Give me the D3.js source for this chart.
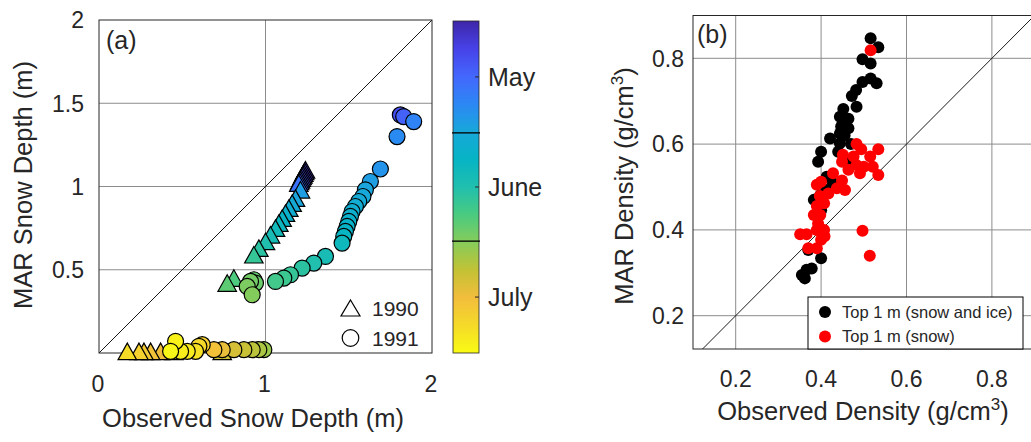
<!DOCTYPE html>
<html><head><meta charset="utf-8">
<script src="https://cdn.jsdelivr.net/npm/d3@7"></script>
<style>
body{margin:0;background:#fff}
text{font-family:"Liberation Sans",Arial,Helvetica,sans-serif;fill:#262626}
</style>
</head><body>
<svg id="chart" width="1031" height="442"></svg>
<script>
// ---------- Panel (a): snow depth, 1990 (triangles) ----------
const obs1990 = [1.24,1.235,1.23,1.225,1.22,1.215,1.21,1.205,1.20,1.21,1.18,1.16,1.14,1.12,1.10,1.08,1.06,1.03,1.00,0.96,0.93,0.81,0.77,0.74,0.45,0.37,0.31,0.27,0.24,0.17];
const mar1990 = [1.10,1.09,1.08,1.07,1.06,1.05,1.04,1.03,1.02,0.98,0.93,0.90,0.87,0.84,0.81,0.78,0.75,0.71,0.67,0.63,0.59,0.45,0.42,0.01,0.01,0.01,0.01,0.01,0.01,0.01];
const day1990 = [2,4,6,8,10,12,14,16,18,28,30,32,34,36,38,40,42,44,46,48,50,54,56,70,74,76,78,80,82,85];
// ---------- Panel (a): snow depth, 1991 (circles) ----------
const obs1991 = [1.81,1.83,1.89,1.79,1.69,1.63,1.60,1.585,1.56,1.54,1.52,1.51,1.50,1.49,1.48,1.47,1.46,1.36,1.29,1.22,1.15,1.11,1.06,0.93,0.94,0.91,0.89,0.92,0.99,0.96,0.92,0.87,0.81,0.74,0.69,0.62,0.60,0.58,0.53,0.49,0.46,0.43];
const mar1991 = [1.43,1.42,1.39,1.30,1.105,1.03,0.98,0.94,0.91,0.88,0.85,0.82,0.79,0.76,0.73,0.70,0.66,0.58,0.54,0.51,0.47,0.45,0.43,0.44,0.42,0.43,0.40,0.35,0.02,0.02,0.02,0.02,0.02,0.02,0.02,0.05,0.04,0.01,0.01,0.01,0.07,0.01];
const day1991 = [10,14,22,24,26,28,30,31,32,33,34,35,36,37,38,39,41,44,46,48,50,51,52,57,58,59,60,61,64,66,68,70,72,75,78,82,84,86,88,89,90,91];
// ---------- Colour bar (days since 1 May) ----------
const cbTickDays = [15.5,46,76.5];
const cbTickLabels = ["May","June","July"];
const cbMonthEdges = [31,61];
const parulaStops = ["#3e26a8","#4742e8","#4367fd","#2c87f4","#18a8da","#06b4c4","#20bfae","#4acb80","#86cc5a","#c2c235","#f2bd3c","#f5da29","#f9fb14"];
// ---------- Ticks ----------
const depthTicksX = [0,1,2];
const depthTicksY = [0.5,1,1.5,2];
const densTicks = [0.2,0.4,0.6,0.8];
// ---------- Panel (b): density ----------
const iceObs = [0.516,0.534,0.497,0.516,0.516,0.497,0.530,0.482,0.472,0.483,0.452,0.444,0.464,0.447,0.464,0.444,0.421,0.444,0.440,0.400,0.393,0.464,0.470,0.413,0.428,0.413,0.398,0.390,0.383,0.400,0.370,0.400,0.378,0.355,0.362,0.366,0.455];
const iceMar = [0.847,0.826,0.798,0.788,0.753,0.745,0.742,0.726,0.712,0.687,0.682,0.664,0.659,0.641,0.637,0.625,0.613,0.602,0.582,0.582,0.559,0.559,0.600,0.524,0.509,0.493,0.481,0.462,0.470,0.446,0.353,0.334,0.310,0.295,0.287,0.307,0.620];
const snowObs = [0.516,0.483,0.494,0.534,0.451,0.476,0.515,0.449,0.483,0.500,0.521,0.464,0.491,0.534,0.428,0.400,0.390,0.449,0.437,0.456,0.417,0.397,0.407,0.390,0.383,0.398,0.393,0.407,0.390,0.351,0.366,0.400,0.408,0.370,0.390,0.497,0.514];
const snowMar = [0.819,0.600,0.588,0.588,0.575,0.571,0.571,0.559,0.551,0.547,0.547,0.540,0.532,0.528,0.532,0.512,0.505,0.515,0.497,0.493,0.485,0.479,0.462,0.456,0.435,0.435,0.415,0.400,0.400,0.390,0.390,0.377,0.385,0.357,0.357,0.398,0.340];
const densLegend = ["Top 1 m (snow and ice)","Top 1 m (snow)"];
const densColors = ["#000000","#ff0000"];

const svg = d3.select("#chart");
const GRID = "#8c8c8c", AX = "#262626";

// parula colour scale over days 0..92
const parula = d3.scaleLinear()
  .domain(parulaStops.map((_, i) => 92 * i / (parulaStops.length - 1)))
  .range(parulaStops).interpolate(d3.interpolateRgb).clamp(true);

// ================= Panel (a) =================
const xA = d3.scaleLinear([0, 2], [99, 432]);
const yA = d3.scaleLinear([0, 2], [353, 20]);
const gA = svg.append("g");
gA.selectAll(".gx").data(depthTicksX.filter(d => d > 0 && d < 2)).join("line")
  .attr("x1", d => xA(d)).attr("x2", d => xA(d)).attr("y1", yA(0)).attr("y2", yA(2))
  .attr("stroke", GRID).attr("stroke-width", 1);
gA.selectAll(".gy").data(depthTicksY.filter(d => d < 2)).join("line")
  .attr("y1", d => yA(d)).attr("y2", d => yA(d)).attr("x1", xA(0)).attr("x2", xA(2))
  .attr("stroke", GRID).attr("stroke-width", 1);
gA.append("line").attr("x1", xA(0)).attr("y1", yA(0)).attr("x2", xA(2)).attr("y2", yA(2))
  .attr("stroke", "#000").attr("stroke-width", 0.9);
gA.append("rect").attr("x", xA(0)).attr("y", yA(2)).attr("width", xA(2) - xA(0)).attr("height", yA(0) - yA(2))
  .attr("fill", "none").attr("stroke", AX).attr("stroke-width", 1);
gA.selectAll(".tx").data(depthTicksX).join("text")
  .attr("x", d => xA(d) - 1).attr("y", 392).attr("text-anchor", "middle").attr("font-size", 23).text(d => d);
gA.selectAll(".ty").data(depthTicksY).join("text")
  .attr("x", 84).attr("y", d => yA(d)).attr("dy", "0.36em").attr("text-anchor", "end").attr("font-size", 23).text(d => d);
gA.append("text").attr("x", 253).attr("y", 427).attr("text-anchor", "middle").attr("font-size", 25.5).text("Observed Snow Depth (m)");
gA.append("text").attr("transform", "translate(31.5,185) rotate(-90)").attr("text-anchor", "middle").attr("font-size", 25.5).text("MAR Snow Depth (m)");
gA.append("text").attr("x", 106).attr("y", 49).attr("font-size", 25).text("(a)");

const triPath = (w, h) => `M0,${-h/2}L${w/2},${h/2}L${-w/2},${h/2}Z`;
const d1990 = obs1990.map((o, i) => ({o, m: mar1990[i], d: day1990[i]}));
const d1991 = obs1991.map((o, i) => ({o, m: mar1991[i], d: day1991[i]}));
gA.selectAll(".tri").data(d1990).join("path")
  .attr("d", triPath(18.5, 16.5)).attr("transform", d => `translate(${xA(d.o)},${yA(d.m)})`)
  .attr("fill", d => parula(d.d)).attr("stroke", "#000").attr("stroke-width", 1.2);
gA.selectAll(".cir").data(d1991).join("circle")
  .attr("cx", d => xA(d.o)).attr("cy", d => yA(d.m)).attr("r", 8)
  .attr("fill", d => parula(d.d)).attr("stroke", "#000").attr("stroke-width", 1.2);
// legend (a)
gA.append("path").attr("d", triPath(19, 16)).attr("transform", "translate(350.5,308)")
  .attr("fill", "#fff").attr("stroke", "#000").attr("stroke-width", 1.2);
gA.append("circle").attr("cx", 350.5).attr("cy", 338).attr("r", 8.3)
  .attr("fill", "#fff").attr("stroke", "#000").attr("stroke-width", 1.2);
gA.append("text").attr("x", 372).attr("y", 316).attr("font-size", 21).text("1990");
gA.append("text").attr("x", 372).attr("y", 346).attr("font-size", 21).text("1991");

// ================= Colour bar =================
const yC = d3.scaleLinear([0, 92], [21, 353]);
const defs = svg.append("defs");
const grad = defs.append("linearGradient").attr("id", "parula").attr("x1", 0).attr("y1", 0).attr("x2", 0).attr("y2", 1);
grad.selectAll("stop").data(parulaStops).join("stop")
  .attr("offset", (d, i) => i / (parulaStops.length - 1)).attr("stop-color", d => d);
const gC = svg.append("g");
gC.append("rect").attr("x", 453).attr("y", yC(0)).attr("width", 26).attr("height", yC(92) - yC(0))
  .attr("fill", "url(#parula)").attr("stroke", AX).attr("stroke-width", 0.8);
gC.selectAll(".edge").data(cbMonthEdges).join("line")
  .attr("x1", 452).attr("x2", 480).attr("y1", d => yC(d)).attr("y2", d => yC(d))
  .attr("stroke", "#000").attr("stroke-width", 1.3);
gC.selectAll(".ctk").data(cbTickDays).join("line")
  .attr("x1", 475).attr("x2", 479).attr("y1", d => yC(d)).attr("y2", d => yC(d))
  .attr("stroke", AX).attr("stroke-width", 1);
gC.selectAll(".clab").data(cbTickDays).join("text")
  .attr("x", 488).attr("y", d => yC(d)).attr("dy", "0.36em").attr("font-size", 25)
  .text((d, i) => cbTickLabels[i]);

// ================= Panel (b) =================
const xB = d3.scaleLinear([0.1, 0.9], [693, 1034.6]);
const yB = d3.scaleLinear([0.2, 0.8], [315.7, 58.3]);
const yBot = 0.2 - (349 - 315.7) / ((315.7 - 58.3) / 0.6);
const yTop = 0.8 + (58.3 - 15.5) / ((315.7 - 58.3) / 0.6);
const gB = svg.append("g");
gB.selectAll(".gx").data(densTicks).join("line")
  .attr("x1", d => xB(d)).attr("x2", d => xB(d)).attr("y1", yB(yBot)).attr("y2", yB(yTop))
  .attr("stroke", GRID).attr("stroke-width", 1);
gB.selectAll(".gy").data(densTicks).join("line")
  .attr("y1", d => yB(d)).attr("y2", d => yB(d)).attr("x1", xB(0.1)).attr("x2", xB(0.9))
  .attr("stroke", GRID).attr("stroke-width", 1);
gB.append("line").attr("x1", xB(yBot)).attr("y1", yB(yBot)).attr("x2", xB(yTop)).attr("y2", yB(yTop))
  .attr("stroke", "#000").attr("stroke-width", 0.9);
gB.append("rect").attr("x", xB(0.1)).attr("y", yB(yTop)).attr("width", xB(0.9) - xB(0.1)).attr("height", yB(yBot) - yB(yTop))
  .attr("fill", "none").attr("stroke", AX).attr("stroke-width", 1);
gB.selectAll(".tx").data(densTicks).join("text")
  .attr("x", d => xB(d)).attr("y", 387).attr("text-anchor", "middle").attr("font-size", 23).text(d => d.toFixed(1));
gB.selectAll(".ty").data(densTicks).join("text")
  .attr("x", 684).attr("y", d => yB(d)).attr("dy", "0.36em").attr("text-anchor", "end").attr("font-size", 23).text(d => d.toFixed(1));
const xl = gB.append("text").attr("x", 863).attr("y", 420).attr("text-anchor", "middle").attr("font-size", 25.5);
xl.append("tspan").text("Observed Density (g/cm");
xl.append("tspan").attr("font-size", 17).attr("dy", -10).text("3");
xl.append("tspan").attr("dy", 10).text(")");
const yl = gB.append("text").attr("transform", "translate(633,186) rotate(-90)").attr("text-anchor", "middle").attr("font-size", 25.5);
yl.append("tspan").text("MAR Density (g/cm");
yl.append("tspan").attr("font-size", 17).attr("dy", -10).text("3");
yl.append("tspan").attr("dy", 10).text(")");
gB.append("text").attr("x", 697).attr("y", 43).attr("font-size", 25).text("(b)");

gB.selectAll(".ice").data(iceObs.map((o, i) => [o, iceMar[i]])).join("circle")
  .attr("cx", d => xB(d[0])).attr("cy", d => yB(d[1])).attr("r", 6).attr("fill", densColors[0]);
gB.selectAll(".snow").data(snowObs.map((o, i) => [o, snowMar[i]])).join("circle")
  .attr("cx", d => xB(d[0])).attr("cy", d => yB(d[1])).attr("r", 6).attr("fill", densColors[1]);
// legend (b)
gB.append("rect").attr("x", 808).attr("y", 297).attr("width", 215).attr("height", 52)
  .attr("fill", "#fff").attr("stroke", "#000").attr("stroke-width", 1);
gB.selectAll(".lgd").data(densLegend).join("circle")
  .attr("cx", 825).attr("cy", (d, i) => 312 + i * 24.5).attr("r", 6).attr("fill", (d, i) => densColors[i]);
gB.selectAll(".lgt").data(densLegend).join("text")
  .attr("x", 842).attr("y", (d, i) => 312 + i * 24.5).attr("dy", "0.36em").attr("font-size", 16.5).text(d => d);
</script>
</body></html>
